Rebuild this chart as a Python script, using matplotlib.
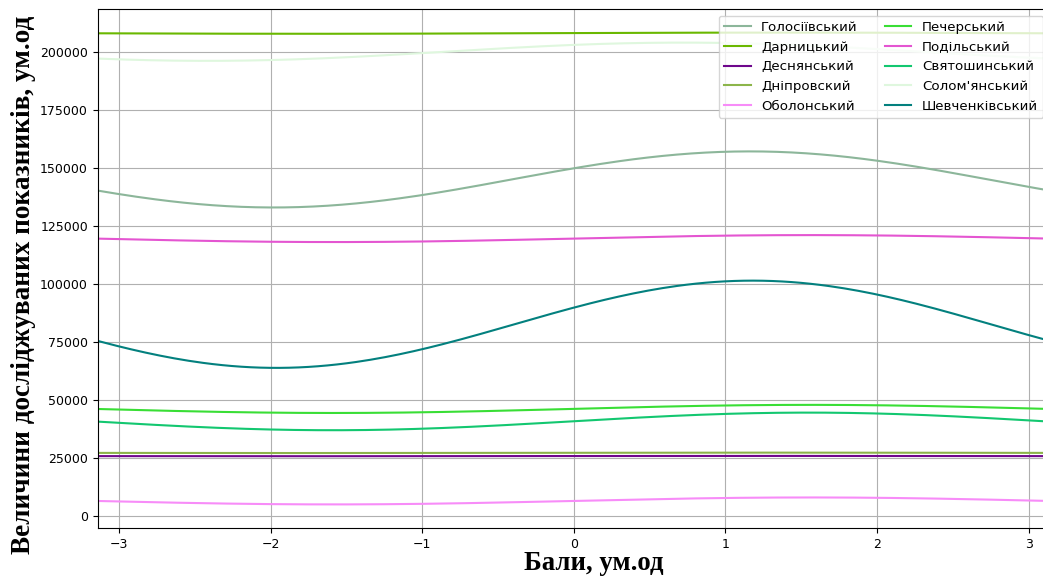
import numpy as np
import pandas as pd
import matplotlib
matplotlib.use("Agg")
import matplotlib.pyplot as plt
from pandas.plotting import andrews_curves

# District indicators (three features per district) for the Andrews curves
districts = ["Голосіївський", "Дарницький", "Деснянський", "Дніпровский",
             "Оболонський", "Печерський", "Подільський", "Святошинський",
             "Солом'янський", "Шевченківський"]
feature_1 = [205180, 294440, 36345, 38325, 8966, 65124, 169084, 57495, 283119, 116793]
feature_2 = [11100, 250, 60, 80, 1500, 1750, 1500, 3800, 2600, 17400]
feature_3 = [4815, 50, 20, 30, 20, 30, 20, 85, 2955, 7185]

df = pd.DataFrame({
    "f1": feature_1,
    "f2": feature_2,
    "f3": feature_3,
    "Район": districts,
})

fig = plt.figure(figsize=(10.43, 5.77), dpi=100)
ax = fig.add_axes([97.7 / 1043, 49 / 577, (1050 - 97.7) / 1043, 519 / 577])

andrews_curves(df, "Район", ax=ax)
ax.set_xlim(-np.pi, np.pi)
ax.tick_params(labelsize=9)
ax.grid(True)
ax.legend(loc="upper right", ncol=2, fontsize=9.6)

fig.text(594 / 1043, 1 - 570 / 577, "Бали, ум.од", ha="center", va="baseline",
         fontsize=19.3, fontweight="bold", family="Liberation Serif")
fig.text(24 / 1043, 1 - 285 / 577, "Величини досліджуваних показників, ум.од",
         ha="center", va="center", rotation=90,
         fontsize=19.6, fontweight="bold", family="Liberation Serif")

fig.savefig("out.png", dpi=100)
